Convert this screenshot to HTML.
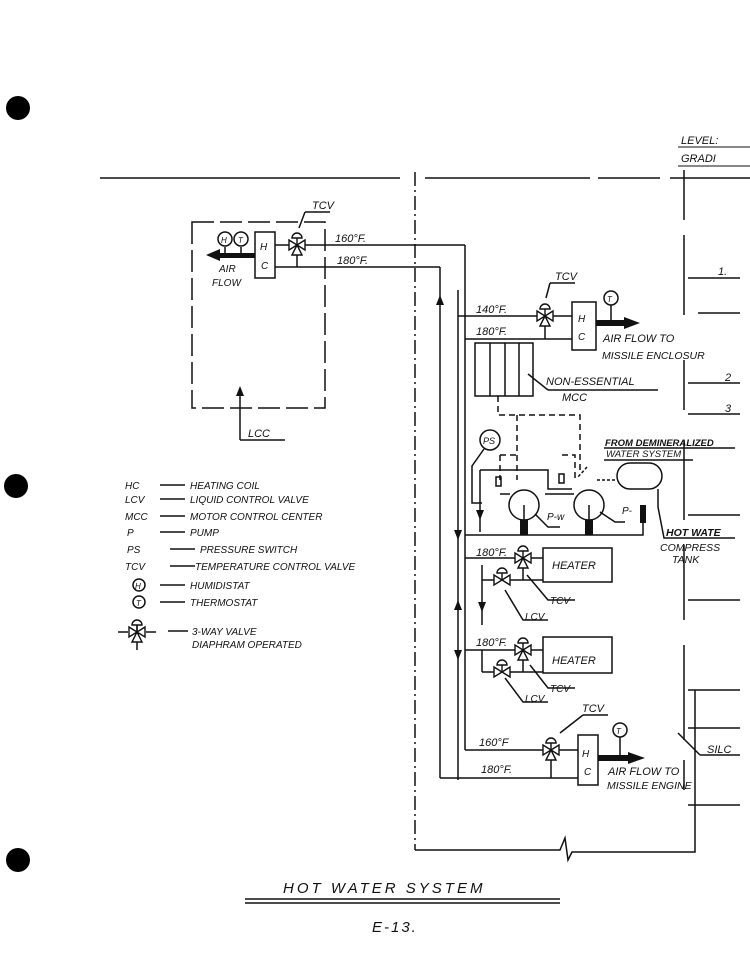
<!DOCTYPE html>
<html><head><meta charset="utf-8"><style>
html,body{margin:0;padding:0;background:#fff;}
svg{display:block;}
text{font-family:"Liberation Sans",sans-serif;font-style:italic;fill:#111;}
</style></head><body>
<svg width="750" height="964" viewBox="0 0 750 964" xmlns="http://www.w3.org/2000/svg">
<defs>
<g id="v3" stroke="#111" stroke-width="1.4" fill="#fff">
 <path d="M-8,-5 L0,0 L-8,5 Z M8,-5 L0,0 L8,5 Z M-5,10 L0,0 L5,10 Z"/>
 <line x1="0" y1="0" x2="0" y2="-7"/>
 <path d="M-5,-7 A5,5 0 0 1 5,-7 Z"/>
</g>
<g id="v2" stroke="#111" stroke-width="1.4" fill="#fff">
 <path d="M-8,-5 L0,0 L-8,5 Z M8,-5 L0,0 L8,5 Z"/>
 <line x1="0" y1="0" x2="0" y2="-7"/>
 <path d="M-5,-7 A5,5 0 0 1 5,-7 Z"/>
</g>
</defs>
<rect width="750" height="964" fill="#fff"/>
<circle cx="18" cy="108" r="12" fill="#000"/>
<circle cx="16" cy="486" r="12" fill="#000"/>
<circle cx="18" cy="860" r="12" fill="#000"/>

<g stroke="#111" stroke-width="1.5" fill="none">
<line x1="100" y1="178" x2="400" y2="178"/>
<line x1="425" y1="178" x2="590" y2="178"/>
<line x1="598" y1="178" x2="660" y2="178"/>
<line x1="670" y1="178" x2="750" y2="178"/>
<line x1="415" y1="172" x2="415" y2="850" stroke-dasharray="14,4,2,4"/>
<path d="M684,170V220 M684,235V315 M684,360V410 M684,440V520 M684,545V620 M684,645V740 M684,760V790"/>
<path d="M688,278H740 M688,383H740 M688,414H740 M688,515H740 M688,600H740 M688,690H740 M688,728H740 M688,805H740"/>
<rect x="192" y="222" width="133" height="186" stroke-dasharray="22,6"/>
<rect x="255" y="232" width="20" height="46" fill="#fff"/>
<line x1="275" y1="245" x2="290" y2="245"/>
<line x1="304" y1="245" x2="465" y2="245"/>
<line x1="275" y1="267" x2="440" y2="267"/>
<line x1="297" y1="255" x2="297" y2="267"/>
<line x1="465" y1="245" x2="465" y2="750"/>
<line x1="440" y1="267" x2="440" y2="778"/>
<line x1="225" y1="247" x2="225" y2="256"/><line x1="241" y1="247" x2="241" y2="256"/>
<circle cx="225" cy="239" r="7"/><circle cx="241" cy="239" r="7"/>
<line x1="240" y1="388" x2="240" y2="440"/><line x1="240" y1="440" x2="285" y2="440"/>
<line x1="305" y1="212" x2="330" y2="212"/><line x1="305" y1="212" x2="299" y2="228"/>
<line x1="458" y1="316" x2="538" y2="316"/>
<line x1="458" y1="290" x2="458" y2="780"/>
<line x1="465" y1="339" x2="572" y2="339"/>
<line x1="552" y1="316" x2="572" y2="316"/>
<line x1="545" y1="326" x2="545" y2="339"/>
<rect x="572" y="302" width="24" height="48"/>
<circle cx="611" cy="298" r="7"/><line x1="611" y1="305" x2="611" y2="323"/>
<line x1="550" y1="283" x2="575" y2="283"/><line x1="550" y1="283" x2="546" y2="298"/>
<rect x="475" y="343" width="58" height="53"/>
<path d="M490,343V396 M505,343V396 M519,343V396"/>
<line x1="528" y1="374" x2="548" y2="390"/><line x1="548" y1="390" x2="658" y2="390"/>
<path d="M498,396V415H580V470 M517,415V480 M500,455H517 M500,455V480 M562,455H575V480" stroke-dasharray="6,4"/>
<circle cx="490" cy="440" r="10"/>
<path d="M484,449 L472,466 V503 H482"/>
<path d="M480,470 H548 V489 H572"/>
<path d="M480,470 V532"/>
<path d="M465,535 H643 V505"/>
<circle cx="524" cy="505" r="15"/><circle cx="589" cy="505" r="15"/>
<path d="M510,494 L500,494 M574,494 L545,494"/>
<rect x="496" y="477" width="5" height="9"/><rect x="559" y="474" width="5" height="9"/>
<path d="M524,505V535 M589,505V535"/>
<path d="M535,514 L548,527 H560 M600,512 L615,522 H625"/>
<rect x="617" y="463" width="45" height="26" rx="13"/>
<path d="M597,480 H617 M587,467 L578,477" stroke-dasharray="3,2"/>
<path d="M658,489 V507 L664,538 H735"/>
<path d="M604,448 H735 M604,460 H693"/>
<line x1="465" y1="558" x2="515" y2="558"/>
<line x1="530" y1="558" x2="543" y2="558"/>
<rect x="543" y="548" width="69" height="34"/>
<line x1="523" y1="568" x2="523" y2="580"/><line x1="510" y1="580" x2="543" y2="580"/>
<line x1="482" y1="580" x2="494" y2="580"/><line x1="482" y1="565" x2="482" y2="625"/>
<path d="M527,575 L548,600 H575 M505,590 L523,620 H548"/>
<line x1="465" y1="650" x2="515" y2="650"/>
<line x1="530" y1="650" x2="543" y2="650"/>
<rect x="543" y="637" width="69" height="36"/>
<line x1="523" y1="660" x2="523" y2="672"/><line x1="510" y1="672" x2="543" y2="672"/>
<line x1="482" y1="672" x2="494" y2="672"/><line x1="482" y1="650" x2="482" y2="672"/>
<path d="M530,665 L548,688 H575 M505,678 L523,702 H548"/>
<line x1="465" y1="750" x2="545" y2="750"/>
<line x1="558" y1="750" x2="578" y2="750"/>
<line x1="440" y1="778" x2="578" y2="778"/>
<line x1="551" y1="760" x2="551" y2="778"/>
<rect x="578" y="735" width="20" height="50"/>
<circle cx="620" cy="730" r="7"/><line x1="620" y1="737" x2="620" y2="758"/>
<line x1="583" y1="715" x2="608" y2="715"/><line x1="583" y1="715" x2="560" y2="733"/>
<line x1="678" y1="733" x2="700" y2="755"/><line x1="700" y1="755" x2="740" y2="755"/>
<path d="M415,850 H560 L565,838 L568,860 L572,852 H695 V690"/>
<line x1="245" y1="899" x2="560" y2="899"/><line x1="245" y1="903" x2="560" y2="903"/>
<path d="M160,485H185 M160,499H185 M160,516H185 M160,532H185 M170,549H195 M170,566H195 M160,585H185 M160,602H185 M168,631H188"/>
<path d="M118,632H128 M146,632H156 M137,620V650"/>
<circle cx="139" cy="585" r="6"/><circle cx="139" cy="602" r="6"/>
</g>
<use href="#v3" x="297" y="245"/>
<use href="#v3" x="545" y="316"/>
<use href="#v3" x="523" y="558"/>
<use href="#v2" x="502" y="580"/>
<use href="#v3" x="523" y="650"/>
<use href="#v2" x="502" y="672"/>
<use href="#v3" x="551" y="750"/>
<use href="#v3" x="137" y="632"/>
<g fill="#111">
<rect x="218" y="253" width="37" height="5"/><path d="M206,255 L220,249 L220,261Z"/>
<rect x="596" y="320" width="30" height="6"/><path d="M640,323 L624,317 L624,329Z"/>
<rect x="598" y="755" width="32" height="6"/><path d="M645,758 L628,752 L628,764Z"/>
<path d="M440,295 L436,305 L444,305Z M240,386 L236,396 L244,396Z M458,540 L454,530 L462,530Z M458,600 L454,610 L462,610Z M458,660 L454,650 L462,650Z M480,520 L476,510 L484,510Z M482,612 L478,602 L486,602Z"/>
<path d="M520,520 h8 v15 h-8z M585,520 h8 v15 h-8z M640,505 h6 v18 h-6z"/>
</g>
<g font-size="11">
<text x="312" y="209">TCV</text>
<text x="335" y="242">160°F.</text>
<text x="337" y="264">180°F.</text>
<text x="260" y="250" font-size="10">H</text><text x="261" y="269" font-size="10">C</text>
<text x="221" y="243" font-size="8">H</text><text x="238" y="243" font-size="8">T</text>
<text x="219" y="272" font-size="10">AIR</text><text x="212" y="286" font-size="10">FLOW</text>
<text x="248" y="437" font-size="11">LCC</text>
<text x="476" y="313" font-size="11">140°F.</text>
<text x="476" y="335" font-size="11">180°F.</text>
<text x="555" y="280">TCV</text>
<text x="578" y="322" font-size="10">H</text><text x="578" y="340" font-size="10">C</text>
<text x="607" y="302" font-size="8">T</text>
<text x="603" y="342">AIR FLOW TO</text>
<text x="602" y="359" font-size="10.5">MISSILE ENCLOSUR</text>
<text x="546" y="385">NON-ESSENTIAL</text>
<text x="562" y="401">MCC</text>
<text x="483" y="444" font-size="9">PS</text>
<text x="605" y="446" font-size="9.5" font-weight="bold">FROM DEMINERALIZED</text>
<text x="606" y="457" font-size="9.5">WATER SYSTEM</text>
<text x="547" y="520" font-size="10">P-w</text>
<text x="622" y="514" font-size="10">P-</text>
<text x="666" y="536" font-size="10.5" font-weight="bold">HOT WATE</text>
<text x="660" y="551" font-size="10.5">COMPRESS</text>
<text x="672" y="563" font-size="10.5">TANK</text>
<text x="476" y="556" font-size="11">180°F.</text>
<text x="552" y="569" font-size="11">HEATER</text>
<text x="550" y="604" font-size="10">TCV</text>
<text x="525" y="620" font-size="10">LCV</text>
<text x="476" y="646" font-size="11">180°F.</text>
<text x="552" y="664" font-size="11" font-style="normal">HEATER</text>
<text x="550" y="692" font-size="10">TCV</text>
<text x="525" y="702" font-size="10">LCV</text>
<text x="582" y="712">TCV</text>
<text x="479" y="746">160°F</text>
<text x="481" y="773">180°F.</text>
<text x="582" y="757" font-size="10">H</text><text x="584" y="775" font-size="10">C</text>
<text x="616" y="734" font-size="8">T</text>
<text x="608" y="775">AIR FLOW TO</text>
<text x="607" y="789" font-size="10.5">MISSILE ENGINE</text>
<text x="707" y="753" font-size="11">SILC</text>
<text x="681" y="144" font-size="11">LEVEL:</text><line x1="678" y1="147" x2="750" y2="147" stroke="#111"/>
<text x="681" y="162" font-size="11">GRADI</text><line x1="678" y1="166" x2="750" y2="166" stroke="#111"/>
<text x="718" y="275" font-size="11">1.</text>
<text x="725" y="381" font-size="11">2</text>
<text x="725" y="412" font-size="11">3</text>
<line x1="698" y1="313" x2="740" y2="313" stroke="#111" stroke-width="1.4"/>
<g font-size="10">
<text x="125" y="489">HC</text><text x="190" y="489">HEATING COIL</text>
<text x="125" y="503">LCV</text><text x="190" y="503">LIQUID CONTROL VALVE</text>
<text x="125" y="520">MCC</text><text x="190" y="520">MOTOR CONTROL CENTER</text>
<text x="127" y="536">P</text><text x="190" y="536">PUMP</text>
<text x="127" y="553">PS</text><text x="200" y="553">PRESSURE SWITCH</text>
<text x="125" y="570">TCV</text><text x="195" y="570">TEMPERATURE CONTROL VALVE</text>
<text x="135" y="589" font-size="8">H</text><text x="190" y="589">HUMIDISTAT</text>
<text x="136" y="606" font-size="8">T</text><text x="190" y="606">THERMOSTAT</text>
<text x="192" y="635">3-WAY VALVE</text>
<text x="192" y="648">DIAPHRAM OPERATED</text>
</g>
<text x="283" y="893" font-size="15" letter-spacing="3">HOT WATER SYSTEM</text>
<text x="372" y="932" font-size="15" letter-spacing="2">E-13.</text>
</g>
</svg>
</body></html>
